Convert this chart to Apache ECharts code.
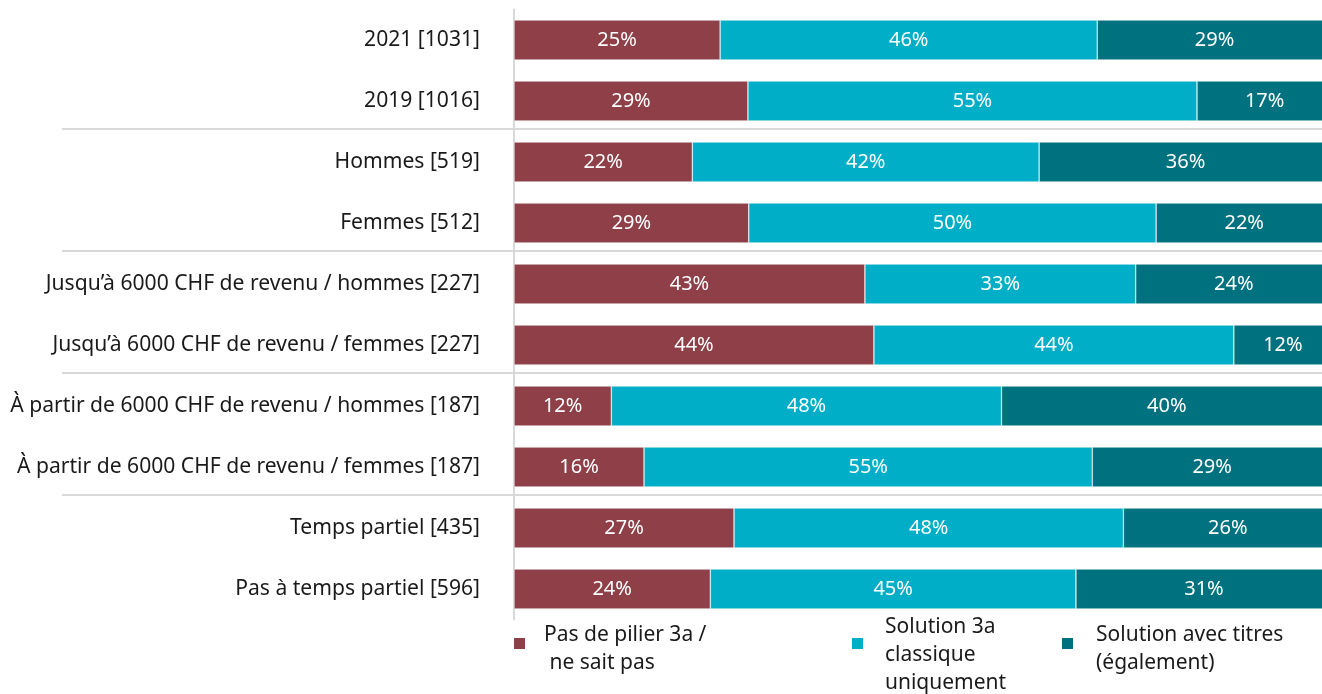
<!DOCTYPE html>
<html>
<head>
<meta charset="utf-8">
<script src="https://cdn.jsdelivr.net/npm/echarts@6/dist/echarts.min.js"></script>
<style>
  html, body { margin: 0; padding: 0; background: #fff; overflow: hidden; }
  /* le graphique d'origine est coupé à droite : le conteneur dépasse de 10px */
  #main { width: 1332px; height: 694px; }
</style>
</head>
<body>
<div id="main"></div>
<script>
// catégories (de haut en bas)
var categories = [
  "2021 [1031]",
  "2019 [1016]",
  "Hommes [519]",
  "Femmes [512]",
  "Jusqu’à 6000 CHF de revenu / hommes [227]",
  "Jusqu’à 6000 CHF de revenu / femmes [227]",
  "À partir de 6000 CHF de revenu / hommes [187]",
  "À partir de 6000 CHF de revenu / femmes [187]",
  "Temps partiel [435]",
  "Pas à temps partiel [596]"
]
// noms des séries (texte de la légende)
var seriesNames = [
  "Pas de pilier 3a /\n ne sait pas",
  "Solution 3a\nclassique\nuniquement",
  "Solution avec titres\n(également)"
]
// valeurs en %
var pasDePilier = [25.2, 28.6, 21.8, 28.7, 42.9, 44.0, 11.9, 15.9, 26.9, 24.0]
var classique = [46.1, 54.9, 42.4, 49.8, 33.1, 44.0, 47.7, 54.8, 47.6, 44.7]
var avecTitres = [28.7, 16.6, 35.8, 21.6, 24.0, 12.0, 40.4, 29.3, 25.6, 31.3]
// séparateurs de groupes : après ces index
var groupBreaks = [1, 3, 5, 7]

var colors = ["#8E3F47", "#00AEC7", "#00717F"]
var font = "Noto Sans"

var chartDom = document.getElementById("main")
var myChart = echarts.init(chartDom)

function makeSeries(name, data, color) {
  return {
    name: name,
    type: "bar",
    stack: "total",
    barWidth: 40,
    data: data,
    itemStyle: { color: color, borderColor: "#ffffff", borderWidth: 0.5 },
    label: {
      show: true,
      position: "inside",
      color: "#ffffff",
      fontFamily: font,
      fontSize: 20,
      formatter: function (p) {
        return Math.round(p.value) + "%"
      }
    },
    emphasis: { disabled: true }
  }
}

// le texte est centré sur le carré : une ligne vide (hauteur gap)
// en tête fait descendre le texte
function makeLegend(i, left, top, padLeft, gap) {
  return {
    data: [seriesNames[i]],
    left: left,
    top: top,
    padding: 0,
    icon: "rect",
    itemWidth: 13,
    itemHeight: 13,
    selectedMode: false,
    formatter: function (name) {
      return "{g| }\n" + name
    },
    textStyle: {
      fontFamily: font,
      fontSize: 21,
      lineHeight: 28,
      color: "#1a1a1a",
      padding: [0, 0, 0, padLeft],
      rich: {
        g: { fontSize: 1, lineHeight: gap }
      }
    }
  }
}

var option = {
  animation: false,
  color: colors,
  grid: {
    left: 514,
    right: 0,
    top: 9.5,
    bottom: 74.5
  },
  xAxis: {
    type: "value",
    min: 0,
    max: 100,
    show: false
  },
  yAxis: {
    type: "category",
    inverse: true,
    data: categories,
    axisLine: { show: true, lineStyle: { color: "#d9d9d9", width: 2 } },
    axisTick: { show: false },
    axisLabel: {
      margin: 34,
      color: "#1a1a1a",
      fontFamily: font,
      fontSize: 21.1
    },
    splitLine: { show: false }
  },
  legend: [
    makeLegend(0, 512, 609.5, 13, 12),
    makeLegend(1, 850, 589.5, 16, 24),
    makeLegend(2, 1060, 609.5, 17, 12)
  ],
  series: [
    makeSeries(seriesNames[0], pasDePilier, colors[0]),
    makeSeries(seriesNames[1], classique, colors[1]),
    makeSeries(seriesNames[2], avecTitres, colors[2])
  ]
}
myChart.setOption(option)

// lignes de séparation entre groupes
var lines = groupBreaks.map(function (idx) {
  var y1 = myChart.convertToPixel({ yAxisIndex: 0 }, idx)
  var y2 = myChart.convertToPixel({ yAxisIndex: 0 }, idx + 1)
  var y = (y1 + y2) / 2 - 2.5
  return {
    type: "line",
    shape: { x1: 62, y1: y, x2: 1332, y2: y },
    style: { stroke: "#d9d9d9", lineWidth: 2 },
    silent: true
  }
})
myChart.setOption({ graphic: lines })

//自适应
window.addEventListener("resize", function () {
  myChart.resize()
})
</script>
</body>
</html>
